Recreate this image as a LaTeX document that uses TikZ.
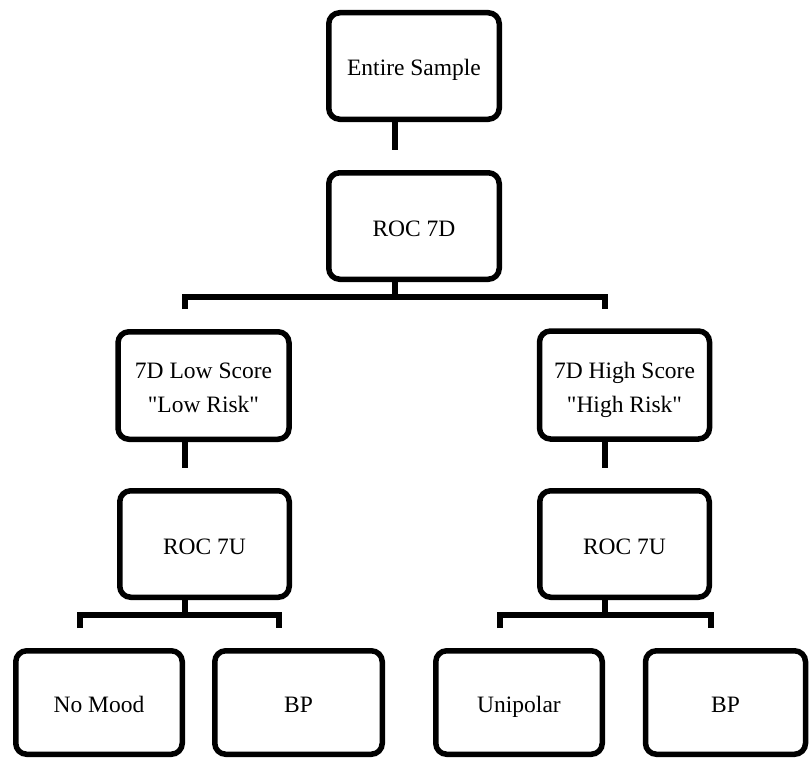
\documentclass[tikz,border=0pt]{standalone}
\usepackage{fontspec}
\setmainfont{Liberation Serif}
\font\rawq="Liberation Serif" at 23.5pt
\newcommand{\sq}{{\rawq\char"22}}
\begin{document}
\begin{tikzpicture}[x=1pt,y=-1pt,
  box/.style={draw=black, fill=white, line width=5.5pt, rounded corners=11pt, align=center,
    inner sep=0pt, text height=20pt, text depth=0pt, font=\fontsize{23.5}{34}\selectfont},
  twoline/.style={text height=54pt, text depth=0pt},
  link/.style={draw=black, line width=5.5pt, line join=miter, line cap=butt}]
\useasboundingbox (0,0) rectangle (809,760);
% nodes
\node[box, minimum width=170.5pt, minimum height=106.5pt] (es) at (414,66) {Entire Sample};
\node[box, minimum width=170.5pt, minimum height=106.5pt] (roc7d) at (414,226) {ROC 7D};
\node[box, twoline, minimum width=171pt, minimum height=107.5pt] (low) at (203.5,385.5) {7D Low Score\\\sq Low Risk\sq};
\node[box, twoline, minimum width=170pt, minimum height=108pt] (high) at (624.5,385) {7D High Score\\\sq High Risk\sq};
\node[box, minimum width=169.5pt, minimum height=106.5pt] (rocL) at (204.5,544) {ROC 7U};
\node[box, minimum width=169.5pt, minimum height=106.5pt] (rocR) at (624.5,544) {ROC 7U};
\node[box, minimum width=166.5pt, minimum height=103.5pt] (nomood) at (99,702.5) {No Mood};
\node[box, minimum width=167.5pt, minimum height=103.5pt] (bpL) at (298.5,702.5) {BP};
\node[box, minimum width=166.5pt, minimum height=103.5pt] (uni) at (519,702.5) {Unipolar};
\node[box, minimum width=160pt, minimum height=103.5pt] (bpR) at (725.5,702.5) {BP};
% connector points
\coordinate (j1) at (395,150);
\coordinate (b1) at (395,297);
\coordinate (bl) at (185,309);
\coordinate (br) at (605,309);
\coordinate (j2) at (185,468);
\coordinate (j3) at (605,468);
\coordinate (c1) at (185,615);
\coordinate (cl) at (80,628);
\coordinate (cr) at (279,628);
\coordinate (d1) at (605,615);
\coordinate (dl) at (500,628);
\coordinate (dr) at (711,628);
% connectors
\draw[link] (es.south -| j1) -- (j1);
\draw[link] (roc7d.south -| b1) -- (b1);
\draw[link] (bl) |- (b1) -| (br);
\draw[link] (low.south -| j2) -- (j2);
\draw[link] (high.south -| j3) -- (j3);
\draw[link] (rocL.south -| c1) -- (c1);
\draw[link] (cl) |- (c1) -| (cr);
\draw[link] (rocR.south -| d1) -- (d1);
\draw[link] (dl) |- (d1) -| (dr);
\end{tikzpicture}
\end{document}
